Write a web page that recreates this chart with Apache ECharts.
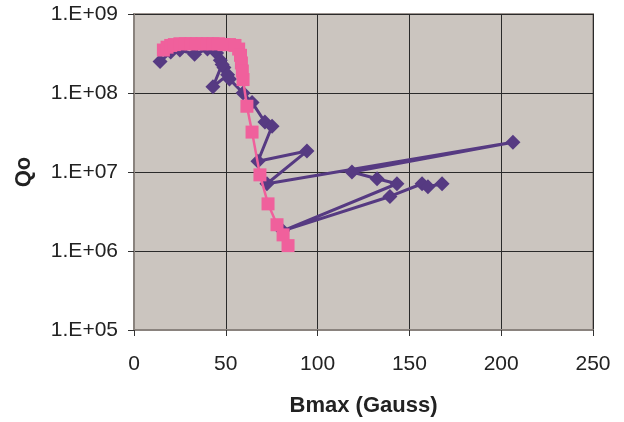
<!DOCTYPE html>
<html>
<head>
<meta charset="utf-8">
<script src="https://cdn.jsdelivr.net/npm/echarts@6/dist/echarts.min.js"></script>
<style>
html,body{margin:0;padding:0;background:#fff;}
#c{width:624px;height:422px;}
</style>
</head>
<body>
<div id="c"></div>
<script>
// Series 1 (purple diamonds)
var purpleB = [14.2, 20, 25, 33, 40, 45, 47, 49, 51, 43, 48, 52, 59.4, 64.3, 71.3, 75.2, 67.5, 94.2, 72.4, 206.4, 118.7, 132.4, 143.2, 81, 139.4, 156.9, 160.1, 167.8];
var purpleQ = [2.5e8, 3.3e8, 3.5e8, 3.1e8, 3.6e8, 3.2e8, 2.6e8, 2.1e8, 1.7e8, 1.2e8, 2.3e8, 1.5e8, 1.0e8, 7.6e7, 4.3e7, 3.8e7, 1.37e7, 1.84e7, 7.1e6, 2.38e7, 1.0e7, 8.2e6, 7.1e6, 1.8e6, 4.9e6, 7.1e6, 6.5e6, 7.1e6];
// Series 2 (pink squares)
var pinkB = [16, 18, 20, 22, 25, 28, 31, 34, 37, 40, 43, 46, 49, 52, 55, 57, 58, 58.5, 59, 59.4, 61.5, 64.3, 68.6, 73.0, 77.9, 81.2, 83.9];
var pinkQ = [3.5e8, 3.8e8, 4.0e8, 4.1e8, 4.2e8, 4.2e8, 4.2e8, 4.2e8, 4.2e8, 4.2e8, 4.2e8, 4.2e8, 4.1e8, 4.1e8, 4.0e8, 3.6e8, 3.0e8, 2.4e8, 1.9e8, 1.48e8, 6.8e7, 3.2e7, 9.2e6, 3.95e6, 2.15e6, 1.6e6, 1.17e6];
// Axis
var xTicks = [0, 50, 100, 150, 200, 250];
var yTickLabels = ['1.E+05', '1.E+06', '1.E+07', '1.E+08', '1.E+09'];

function zip(a, b) { return a.map(function (v, i) { return [v, b[i]]; }); }

var chart = echarts.init(document.getElementById('c'), null, {renderer: 'canvas'});
var font = '"Liberation Sans", Arial, sans-serif';
chart.setOption({
  animation: false,
  backgroundColor: '#ffffff',
  grid: {left: 134, top: 14, right: 31, bottom: 90, show: true, backgroundColor: '#cbc5bf', borderColor: '#9d9590', borderWidth: 2},
  xAxis: {
    type: 'value', min: 0, max: 250, interval: 50,
    name: 'Bmax (Gauss)', nameLocation: 'middle', nameGap: 65,
    nameTextStyle: {fontFamily: font, fontSize: 22, fontWeight: 'bold', color: '#222'},
    axisLine: {show: true, onZero: false, lineStyle: {color: '#8a837e', width: 2}},
    axisTick: {show: true, inside: false, length: 6, lineStyle: {color: '#333', width: 1}},
    axisLabel: {margin: 24, fontFamily: font, fontSize: 21, color: '#222'},
    splitLine: {show: true, lineStyle: {color: '#2a2a2a', width: 1}}
  },
  yAxis: {
    type: 'log', logBase: 10, min: 1e5, max: 1e9,
    name: 'Qo', nameLocation: 'middle', nameGap: 99, nameRotate: 90,
    nameTextStyle: {fontFamily: font, fontSize: 22, fontWeight: 'bold', color: '#222'},
    axisLine: {show: true, lineStyle: {color: '#8a837e', width: 2}},
    axisTick: {show: true, inside: false, length: 6, lineStyle: {color: '#333', width: 1}},
    axisLabel: {margin: 16, fontFamily: font, fontSize: 21, color: '#222',
      formatter: function (v) {
        var e = Math.round(Math.log10(v));
        return yTickLabels[e - 5];
      }},
    splitLine: {show: true, lineStyle: {color: '#2a2a2a', width: 1}}
  },
  series: [
    {
      type: 'line', data: zip(purpleB, purpleQ),
      symbol: 'diamond', symbolSize: 15,
      itemStyle: {color: '#563a82'},
      lineStyle: {color: '#563a82', width: 3},
      z: 2
    },
    {
      type: 'line', data: zip(pinkB, pinkQ),
      symbol: 'rect', symbolSize: 13,
      itemStyle: {color: '#f0609c'},
      lineStyle: {color: '#f0609c', width: 2.5},
      z: 3
    }
  ]
});
</script>
</body>
</html>
